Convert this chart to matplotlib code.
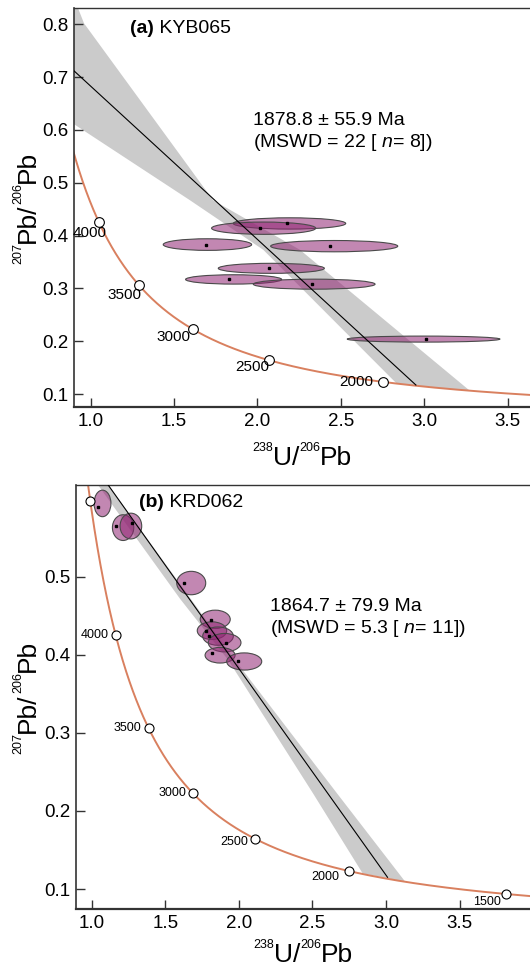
import numpy as np
import matplotlib
matplotlib.use("Agg")
import matplotlib.pyplot as plt
from matplotlib.patches import Ellipse

plt.rcParams['font.family'] = ['Liberation Sans', 'DejaVu Sans']
plt.rcParams['mathtext.fontset'] = 'custom'
plt.rcParams['mathtext.rm'] = 'Liberation Sans'
plt.rcParams['mathtext.it'] = 'Liberation Sans:italic'
plt.rcParams['mathtext.bf'] = 'Liberation Sans:bold'

# decay constants (1/yr) and 238U/235U
L238 = 1.55125e-10
L235 = 9.8485e-10
U_RATIO = 137.88

# concordia age markers (Ma)
ages_a = [4000, 3500, 3000, 2500, 2000]
ages_b = [4500, 4000, 3500, 3000, 2500, 2000, 1500]
labels_b = ['', '4000', '3500', '3000', '2500', '2000', '1500']

# (a) KYB065 - ellipse centres, widths, heights and measured points
a_cx = [2.192, 2.037, 1.700, 2.460, 2.083, 1.857, 2.340, 2.996]
a_cy = [0.423, 0.414, 0.383, 0.380, 0.338, 0.317, 0.308, 0.204]
a_w = [0.674, 0.624, 0.530, 0.762, 0.636, 0.576, 0.730, 0.916]
a_h = [0.0214, 0.0233, 0.0220, 0.0214, 0.0190, 0.0177, 0.0190, 0.0114]
a_px = [2.179, 2.015, 1.689, 2.437, 2.071, 1.829, 2.327, 3.012]
a_py = [0.423, 0.414, 0.383, 0.380, 0.338, 0.317, 0.308, 0.204]

# discordia line and its error band
a_line_x = [0.90, 2.95]
a_line_y = [0.712, 0.117]
a_band_upper_x = [0.90, 0.96, 1.734, 2.255, 3.274]
a_band_upper_y = [0.850, 0.802, 0.467, 0.373, 0.106]
a_band_lower_x = [0.90, 1.595, 2.035, 2.834]
a_band_lower_y = [0.611, 0.467, 0.373, 0.120]

# (b) KRD062
b_cx = [1.073, 1.213, 1.266, 1.676, 1.839, 1.817, 1.858, 1.903, 1.872, 2.036]
b_cy = [0.594, 0.563, 0.565, 0.492, 0.4455, 0.431, 0.424, 0.4156, 0.3995, 0.3915]
b_w = [0.115, 0.145, 0.147, 0.197, 0.204, 0.200, 0.208, 0.222, 0.204, 0.238]
b_h = [0.034, 0.033, 0.033, 0.030, 0.0235, 0.0226, 0.0235, 0.0236, 0.020, 0.022]
b_px = [1.045, 1.165, 1.272, 1.629, 1.810, 1.774, 1.799, 1.910, 1.815, 1.992]
b_py = [0.589, 0.565, 0.569, 0.492, 0.445, 0.431, 0.424, 0.4146, 0.402, 0.392]

b_line_x = [0.90, 3.01]
b_line_y = [0.6736, 0.115]
b_band_left_x = [0.957, 1.600, 1.928, 2.503, 2.841]
b_band_left_y = [0.640, 0.4718, 0.3932, 0.2227, 0.120]
b_band_right_x = [1.027, 1.975, 2.666, 3.130]
b_band_right_y = [0.640, 0.393, 0.2227, 0.1094]

# the x axis of panel (a) sits slightly off the true concordia
A_X_SCALE, A_X_SHIFT = 1.073, -0.198

# label offsets (points) for the concordia ages
A_LABEL_OFFSETS = [(5.8, -8), (1.4, -7.2), (-1.4, -5.8), (0.7, -5), (-7.2, 0)]
B_LABEL_OFFSETS = [(0, 0), (-5, 0), (-5.4, 0), (-5, 0), (-5, -2.2), (-7.2, -4.3), (-3.6, -5.8)]

CONC_COLOR = '#d9805f'
BAND_COLOR = '#cbcbcb'
ELL_FACE = (0.57, 0.14, 0.45, 0.55)
ELL_EDGE = '#4a4a4a'


def tw_concordia(t_ma):
    t = np.asarray(t_ma, dtype=float) * 1e6
    e8 = np.exp(L238 * t) - 1
    e5 = np.exp(L235 * t) - 1
    return 1 / e8, e5 / e8 / U_RATIO


def chain_label(ax, pieces, pos, big, small, raise_pt, vertical=False):
    arts = []
    prev = None
    for text, sup in pieces:
        size = small if sup else big
        off = raise_pt if sup else 0
        if not vertical:
            xy, xyc = (pos, 'axes fraction') if prev is None else ((1, pos[1]), (prev, 'axes fraction'))
            a = ax.annotate(text, xy=xy, xycoords=xyc, xytext=(0, off), textcoords='offset points',
                            ha='left', va='baseline', fontsize=size)
        else:
            xy, xyc = (pos, 'axes fraction') if prev is None else ((pos[0], 1), ('axes fraction', prev))
            a = ax.annotate(text, xy=xy, xycoords=xyc, xytext=(-off, 0), textcoords='offset points',
                            ha='left', va='baseline', fontsize=size, rotation=90, rotation_mode='anchor')
        arts.append(a)
        prev = a
    return arts


def center_chain(fig, ax, arts, vertical=False):
    fig.canvas.draw()
    r = fig.canvas.get_renderer()
    bbs = [a.get_window_extent(r) for a in arts]
    bb = ax.get_window_extent(r)
    x, y = arts[0].xy
    if not vertical:
        mid = (min(b.x0 for b in bbs) + max(b.x1 for b in bbs)) / 2
        arts[0].xy = (x + ((bb.x0 + bb.x1) / 2 - mid) / bb.width, y)
    else:
        mid = (min(b.y0 for b in bbs) + max(b.y1 for b in bbs)) / 2
        arts[0].xy = (x, y + ((bb.y0 + bb.y1) / 2 - mid) / bb.height)


def style_axes(ax):
    ax.spines['right'].set_visible(False)
    ax.spines['left'].set_linewidth(1.2)
    ax.spines['bottom'].set_linewidth(1.6)
    ax.spines['top'].set_linewidth(1.0)
    for s in ax.spines.values():
        s.set_color('#333333')
    ax.tick_params(direction='in', length=6.5, width=1.0, color='#333333', labelsize=13.5, pad=4)


fig = plt.figure(figsize=(5.3, 9.68), dpi=100)
ax1 = fig.add_axes([74 / 530, 1 - 407 / 968, 456 / 530, 399 / 968])
ax2 = fig.add_axes([76 / 530, 1 - 909 / 968, 454 / 530, 424 / 968])

t_curve = np.linspace(1300, 4700, 600)

# ---------- panel (a) ----------
cx, cy = tw_concordia(t_curve)
ax1.plot(A_X_SCALE * cx + A_X_SHIFT, cy, color=CONC_COLOR, lw=1.4, zorder=2)
ax1.fill(np.r_[a_band_upper_x, a_band_lower_x[::-1]], np.r_[a_band_upper_y, a_band_lower_y[::-1]],
         color=BAND_COLOR, lw=0, zorder=1)
for x, y, w, h in zip(a_cx, a_cy, a_w, a_h):
    ax1.add_patch(Ellipse((x, y), w, h, facecolor=ELL_FACE, edgecolor=ELL_EDGE, lw=0.8, zorder=3))
ax1.plot(a_px, a_py, 's', color='black', ms=1.8, zorder=5)
ax1.plot(a_line_x, a_line_y, color='black', lw=0.8, zorder=4)
mx, my = tw_concordia(ages_a)
ax1.plot(A_X_SCALE * mx + A_X_SHIFT, my, 'o', mfc='white', mec='black', mew=0.8, ms=7, zorder=6)
for x, y, age, off in zip(A_X_SCALE * mx + A_X_SHIFT, my, ages_a, A_LABEL_OFFSETS):
    ax1.annotate(str(age), (x, y), xytext=off, textcoords='offset points',
                 ha='right', va='center', fontsize=11, zorder=7)

ax1.set_xlim(0.9, 3.634)
ax1.set_ylim(0.0754, 0.831)
ax1.set_xticks([1.0, 1.5, 2.0, 2.5, 3.0, 3.5])
ax1.set_yticks([0.1, 0.2, 0.3, 0.4, 0.5, 0.6, 0.7, 0.8])
style_axes(ax1)

t1 = ax1.text(0.123, 0.937, '(a)', transform=ax1.transAxes, fontsize=14, fontweight='bold', va='baseline')
ax1.annotate(' KYB065', xy=(1, 0.937), xycoords=(t1, 'axes fraction'), fontsize=14, va='baseline')
ax1.text(0.392, 0.707, '1878.8 ± 55.9 Ma', transform=ax1.transAxes, fontsize=14, va='baseline')
ax1.text(0.392, 0.652, r'(MSWD = 22 [ $\mathit{n}$= 8])', transform=ax1.transAxes, fontsize=14, va='baseline')

# ---------- panel (b) ----------
ax2.plot(cx, cy, color=CONC_COLOR, lw=1.4, zorder=2)
ax2.fill(np.r_[b_band_left_x, b_band_right_x[::-1]], np.r_[b_band_left_y, b_band_right_y[::-1]],
         color=BAND_COLOR, lw=0, zorder=1)
for x, y, w, h in zip(b_cx, b_cy, b_w, b_h):
    ax2.add_patch(Ellipse((x, y), w, h, facecolor=ELL_FACE, edgecolor=ELL_EDGE, lw=0.8, zorder=3))
ax2.plot(b_px, b_py, 's', color='black', ms=1.8, zorder=5)
ax2.plot(b_line_x, b_line_y, color='black', lw=0.8, zorder=4)
mx, my = tw_concordia(ages_b)
ax2.plot(mx, my, 'o', mfc='white', mec='black', mew=0.8, ms=6.5, zorder=6)
for x, y, lab, off in zip(mx, my, labels_b, B_LABEL_OFFSETS):
    ax2.annotate(lab, (x, y), xytext=off, textcoords='offset points',
                 ha='right', va='center', fontsize=9, zorder=7)

ax2.set_xlim(0.893, 3.978)
ax2.set_ylim(0.0744, 0.6176)
ax2.set_xticks([1.0, 1.5, 2.0, 2.5, 3.0, 3.5])
ax2.set_yticks([0.1, 0.2, 0.3, 0.4, 0.5])
style_axes(ax2)

t2 = ax2.text(0.139, 0.948, '(b)', transform=ax2.transAxes, fontsize=14, fontweight='bold', va='baseline')
ax2.annotate(' KRD062', xy=(1, 0.948), xycoords=(t2, 'axes fraction'), fontsize=14, va='baseline')
ax2.text(0.427, 0.703, '1864.7 ± 79.9 Ma', transform=ax2.transAxes, fontsize=14, va='baseline')
ax2.text(0.427, 0.651, r'(MSWD = 5.3 [ $\mathit{n}$= 11])', transform=ax2.transAxes, fontsize=14, va='baseline')

# axis labels with small raised isotope numbers
xl_parts = [('238', True), ('U/', False), ('206', True), ('Pb', False)]
yl_parts = [('207', True), ('Pb/', False), ('206', True), ('Pb', False)]
labels = []
labels.append((ax1, chain_label(ax1, xl_parts, (0.4, -0.145), 19, 9, 10), False))
labels.append((ax2, chain_label(ax2, xl_parts, (0.4, -0.124), 19, 9, 10), False))
labels.append((ax1, chain_label(ax1, yl_parts, (-0.0855, 0.35), 19, 9, 10, vertical=True), True))
labels.append((ax2, chain_label(ax2, yl_parts, (-0.0903, 0.35), 19, 9, 10, vertical=True), True))
for ax, arts, vert in labels:
    center_chain(fig, ax, arts, vert)

fig.savefig('out.png', dpi=100)
